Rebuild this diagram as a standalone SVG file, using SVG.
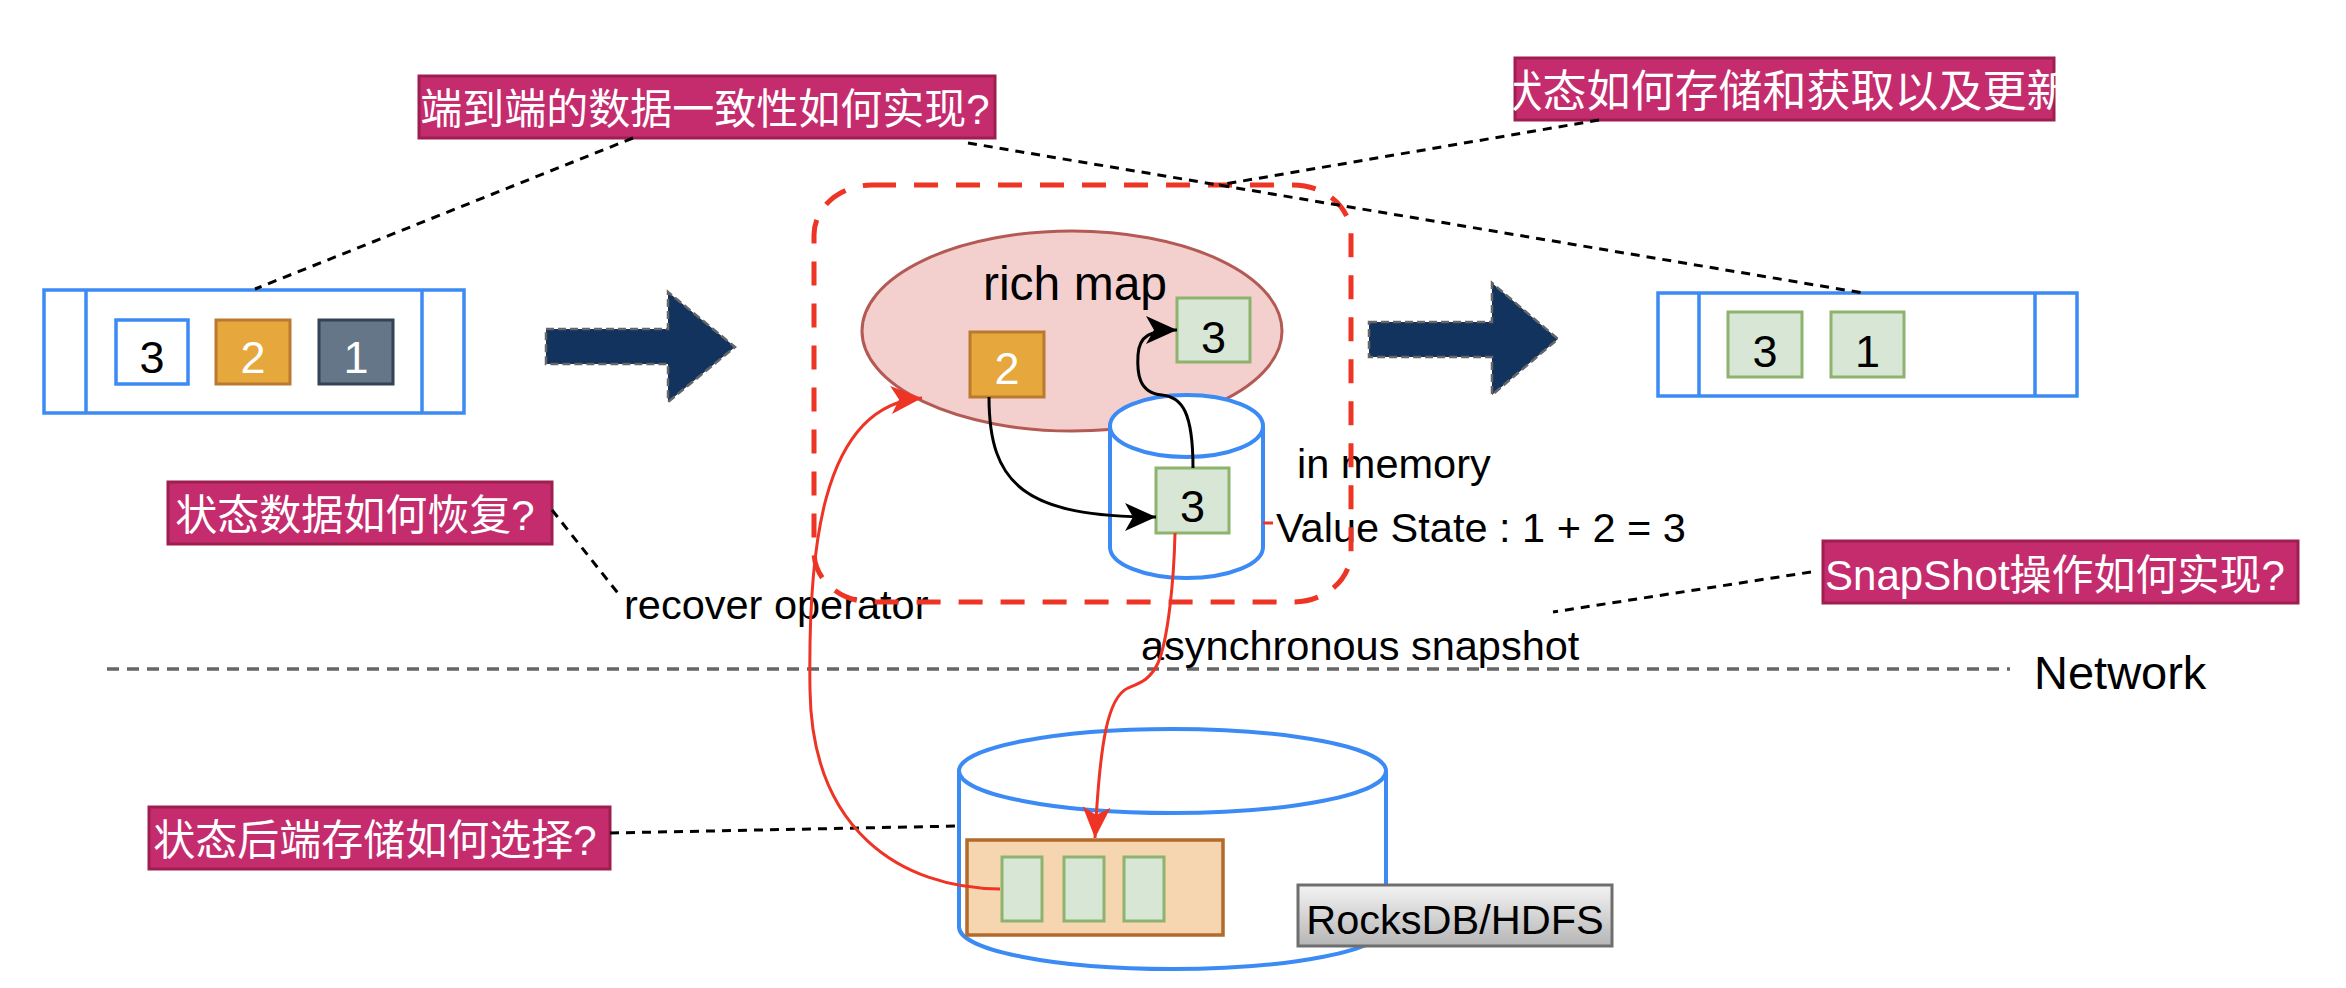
<svg xmlns="http://www.w3.org/2000/svg" width="2346" height="988" viewBox="0 0 2346 988">
<defs>
<style>
.lbl{font-family:"Liberation Sans",Arial,sans-serif;font-size:41.5px;fill:#000}
.num{font-family:"Liberation Sans",Arial,sans-serif;font-size:45px;text-anchor:middle}
.call rect{fill:#C52C6E;stroke:#9E1F4F;stroke-width:3}
.call text{font-family:"Liberation Sans","Noto Sans CJK SC",sans-serif;font-size:42px;fill:#fff;text-anchor:middle}
.q{fill:#fff;stroke:#3C8BF5;stroke-width:3.5}
.grn{fill:#D8E7D5;stroke:#8DB36F;stroke-width:3}
.org{fill:#E6A73C;stroke:#B97A2E;stroke-width:3}
.cyl{fill:#fff;stroke:#3C8BF5;stroke-width:4}
.big{fill:#12335E;stroke:#666;stroke-width:2.5;stroke-dasharray:8 4}
.dl{fill:none;stroke:#000;stroke-width:3;stroke-dasharray:9 7}
.blk{fill:none;stroke:#000;stroke-width:3}
.red{fill:none;stroke:#EE3424;stroke-width:3}
</style>
<marker id="ab" viewBox="-32 -16 34 32" refX="0" refY="0" markerWidth="34" markerHeight="32" markerUnits="userSpaceOnUse" orient="auto"><path d="M0,0 L-31,-14 L-23,0 L-31,14 Z" fill="#000"/></marker>
<marker id="ar" viewBox="-32 -16 34 32" refX="0" refY="0" markerWidth="34" markerHeight="32" markerUnits="userSpaceOnUse" orient="auto"><path d="M0,0 L-31,-14 L-23,0 L-31,14 Z" fill="#EE3424"/></marker>
<linearGradient id="gg" x1="0" y1="0" x2="0" y2="1"><stop offset="0" stop-color="#F4F4F4"/><stop offset="1" stop-color="#B5B5B5"/></linearGradient>
</defs>
<rect width="2346" height="988" fill="#fff"/>

<!-- network line -->
<g id="network">
<line x1="107" y1="669" x2="2010" y2="669" stroke="#666" stroke-width="3.5" stroke-dasharray="12 8"/>
<text class="lbl" x="2034" y="689" style="font-size:47px">Network</text>
</g>

<!-- left queue -->
<g id="queue-in">
<rect class="q" x="44" y="290" width="420" height="123"/>
<line class="q" x1="86" y1="290" x2="86" y2="413"/>
<line class="q" x1="422" y1="290" x2="422" y2="413"/>
<rect x="116" y="320" width="72" height="64" fill="#fff" stroke="#3C8BF5" stroke-width="3.5"/>
<text class="num" x="152" y="373" fill="#000">3</text>
<rect class="org" x="216" y="320" width="74" height="64"/>
<text class="num" x="253" y="373" fill="#fff">2</text>
<rect x="319" y="320" width="74" height="64" fill="#647687" stroke="#314354" stroke-width="3"/>
<text class="num" x="356" y="373" fill="#fff">1</text>
</g>

<!-- right queue -->
<g id="queue-out">
<rect class="q" x="1658" y="293" width="419" height="103"/>
<line class="q" x1="1699" y1="293" x2="1699" y2="396"/>
<line class="q" x1="2035" y1="293" x2="2035" y2="396"/>
<rect class="grn" x="1728" y="312" width="74" height="65"/>
<text class="num" x="1765" y="367" fill="#000">3</text>
<rect class="grn" x="1831" y="312" width="73" height="65"/>
<text class="num" x="1867.5" y="367" fill="#000">1</text>
</g>

<!-- big arrows -->
<g id="arrow-in"><path class="big" d="M546,329 L668,329 L668,292 L735,347 L668,402 L668,364 L546,364 Z"/></g>
<g id="arrow-out"><path class="big" d="M1369,322 L1492,322 L1492,283 L1558,339 L1492,395 L1492,357 L1369,357 Z"/></g>

<!-- rich map -->
<g id="rich-map">
<ellipse cx="1072" cy="331" rx="210" ry="100" fill="#F3D0CE" stroke="#B45A55" stroke-width="3"/>
<text class="lbl" x="1075" y="300" text-anchor="middle" style="font-size:48px">rich map</text>
<rect class="org" x="970" y="332" width="74" height="65"/>
<text class="num" x="1007" y="384" fill="#fff">2</text>
<rect class="grn" x="1177" y="298" width="73" height="64"/>
<text class="num" x="1213.5" y="353" fill="#000">3</text>
</g>

<!-- memory cylinder -->
<g id="memory">
<path class="cyl" d="M1110,426 A76.5,31 0 0 1 1263,426 L1263,547 A76.5,31 0 0 1 1110,547 Z"/>
<path class="cyl" fill="none" d="M1110,426 A76.5,31 0 0 0 1263,426"/>
<rect class="grn" x="1156" y="468" width="73" height="65"/>
<text class="num" x="1192.5" y="522" fill="#000">3</text>
<text class="lbl" x="1297" y="478">in memory</text>
<line x1="1263" y1="523" x2="1273" y2="523" stroke="#EE3424" stroke-width="3"/>
<text class="lbl" x="1276" y="542">Value State : 1 + 2 = 3</text>
</g>

<!-- storage cylinder -->
<g id="storage">
<path class="cyl" d="M959,771 A213.5,42 0 0 1 1386,771 L1386,927 A213.5,42 0 0 1 959,927 Z"/>
<path class="cyl" fill="none" d="M959,771 A213.5,42 0 0 0 1386,771"/>
<rect x="967" y="840" width="256" height="95" fill="#F5D6B0" stroke="#B36A2A" stroke-width="3.5"/>
<rect class="grn" x="1002" y="857" width="40" height="64"/>
<rect class="grn" x="1064" y="857" width="40" height="64"/>
<rect class="grn" x="1124" y="857" width="40" height="64"/>
</g>
<g id="rocksdb">
<rect x="1298" y="885" width="314" height="61" fill="url(#gg)" stroke="#6E6E6E" stroke-width="3"/>
<text class="lbl" x="1455" y="934" text-anchor="middle">RocksDB/HDFS</text>
</g>

<!-- free labels -->
<g id="labels">
<text class="lbl" x="624" y="619">recover operator</text>
<text class="lbl" x="1141" y="660">asynchronous snapshot</text>
</g>

<!-- operator boundary -->
<g id="operator">
<rect x="814" y="185" width="537" height="417" rx="58" ry="50" fill="none" stroke="#EE3424" stroke-width="5" stroke-dasharray="24 18"/>
</g>

<!-- callouts -->
<g id="callout-e2e" class="call">
<rect x="419" y="76" width="576" height="62"/>
<text x="705" y="124">端到端的数据一致性如何实现?</text>
</g>
<g id="callout-state" class="call">
<rect x="1515" y="58" width="539" height="62"/>
<text x="1784.5" y="107" style="font-size:44px">状态如何存储和获取以及更新</text>
</g>
<g id="callout-recover" class="call">
<rect x="168" y="482" width="384" height="62"/>
<text x="355" y="530">状态数据如何恢复?</text>
</g>
<g id="callout-backend" class="call">
<rect x="149" y="807" width="461" height="62"/>
<text x="375" y="855">状态后端存储如何选择?</text>
</g>
<g id="callout-snapshot" class="call">
<rect x="1823" y="541" width="475" height="62"/>
<text x="2055" y="590">SnapShot操作如何实现?</text>
</g>

<!-- connectors -->
<g id="connectors">
<line class="dl" x1="633" y1="138" x2="255" y2="289"/>
<line class="dl" x1="968" y1="143" x2="1863" y2="293"/>
<line class="dl" x1="1599" y1="120" x2="1219" y2="185"/>
<line class="dl" x1="552" y1="510" x2="621" y2="597"/>
<line class="dl" x1="610" y1="833" x2="958" y2="826"/>
<line class="dl" x1="1811" y1="572" x2="1553" y2="612"/>
<path class="blk" marker-end="url(#ab)" d="M989,397 C989,485 1025,517 1156,517"/>
<path class="blk" marker-end="url(#ab)" d="M1193,468 C1193,412 1182,397 1162,395 C1138,393 1137,372 1138,355 C1139,336 1150,330 1177,330"/>
<path class="red" marker-end="url(#ar)" d="M1175,533 C1174,580 1168,640 1158,663 C1150,680 1140,683 1128,688 C1108,697 1100,740 1095,838"/>
<path class="red" stroke-width="3.5" marker-end="url(#ar)" d="M1000,889 C900,888 812,830 810,690 C808,560 818,405 922,398"/>
</g>
</svg>
